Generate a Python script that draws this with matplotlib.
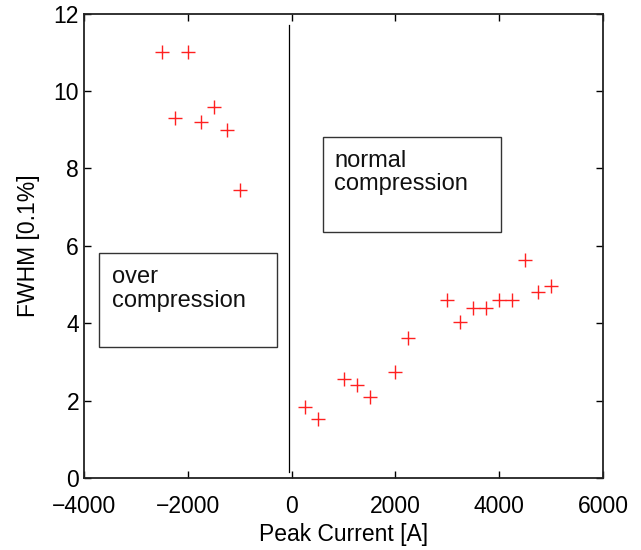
import matplotlib
matplotlib.use('Agg')
from matplotlib import pyplot as plt
from matplotlib.patches import Rectangle

plt.rcParams['font.family'] = ['Liberation Sans', 'DejaVu Sans']
plt.rcParams['font.size'] = 16.5

# over compression side (negative peak current)
over_x = [-2500, -2000, -2250, -1500, -1750, -1250, -1000]
over_y = [11.0, 11.0, 9.3, 9.6, 9.2, 9.0, 7.45]

# normal compression side
norm_x = [250, 500, 1000, 1250, 1500, 2000, 2250, 3000, 3250, 3500,
          3750, 4000, 4250, 4500, 4750, 5000]
norm_y = [1.83, 1.52, 2.55, 2.4, 2.1, 2.73, 3.62, 4.6, 4.02, 4.4,
          4.4, 4.6, 4.6, 5.63, 4.8, 4.95]

fig = plt.figure(figsize=(6.41, 5.5), dpi=100)
ax = fig.add_axes([0.131, 0.131, 0.81, 0.844])

ax.plot(over_x + norm_x, over_y + norm_y, '+', color='#ff2020',
        markersize=10, markeredgewidth=1.0)

# divider between the two regimes
ax.plot([-50, -50], [0.15, 11.7], color='black', linewidth=0.9)

# annotation boxes
ax.add_patch(Rectangle((-3711, 3.38), 3435, 2.44, fill=False,
                       edgecolor='#333333', linewidth=1.0))
ax.text(-3460, 5.47, 'over\ncompression', va='top', ha='left',
        linespacing=1.07, color='#111111', fontsize=17)
ax.add_patch(Rectangle((599, 6.37), 3430, 2.44, fill=False,
                       edgecolor='#333333', linewidth=1.0))
ax.text(824, 8.47, 'normal\ncompression', va='top', ha='left',
        linespacing=1.07, color='#111111', fontsize=17)

ax.set_xlim(-4000, 6000)
ax.set_ylim(0, 12)
ax.set_xticks([-4000, -2000, 0, 2000, 4000, 6000])
ax.set_yticks([0, 2, 4, 6, 8, 10, 12])
ax.tick_params(direction='in', top=True, right=True, length=5, width=1.0,
               labelsize=16.5)
ax.tick_params(axis='x', pad=12)
for s in ax.spines.values():
    s.set_linewidth(1.3)
    s.set_color('#222222')

ax.set_xlabel('Peak Current [A]', labelpad=4)
ax.set_ylabel('FWHM [0.1%]', labelpad=10)

plt.savefig('out.png', dpi=100)
